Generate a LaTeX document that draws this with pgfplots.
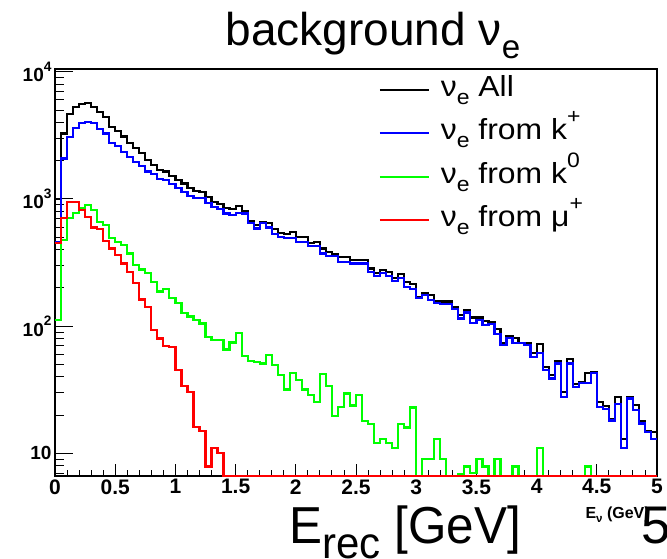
\documentclass[border=0pt]{standalone}
\usepackage{fontspec}
\setmainfont{Liberation Sans}
\usepackage{graphicx}
\usepackage{pgfplots}
\usepackage{pgfplotstable}
\pgfplotsset{compat=1.18}

% ROOT-like sub- and superscripts
\newcommand{\sub}[1]{\raisebox{-0.28em}{\scalebox{0.72}{#1}}}
\newcommand{\super}[1]{\raisebox{0.55em}{\scalebox{0.72}{#1}}}
% slightly wide legend lettering
\newcommand{\lgd}[1]{\scalebox{1.1}[1]{#1}}

\definecolor{rootblue}{RGB}{0,0,255}
\definecolor{rootgreen}{RGB}{0,255,0}
\definecolor{rootred}{RGB}{255,0,0}

% Background nu_e spectra per 0.05 GeV bin (lower bin edge in GeV);
% the last row repeats the last bin to close the step line at 5 GeV.
\pgfplotstableread{
x     all    kp     k0     mu
0.00  1000   460    112    448
0.05  3270   2080   475    703
0.10  4650   3080   703    950
0.15  5310   3590   780    950
0.20  5570   3930   843    818
0.25  5640   4000   895    724
0.30  5310   3930   818    597
0.35  4850   3520   662    577
0.40  4430   3270   624    469
0.45  3700   2740   490    408
0.50  3440   2610   461    362
0.55  3090   2350   434    311
0.60  2770   2150   373    268
0.65  2500   1960   302    217
0.70  2280   1810   279    162
0.75  2020   1640   260    142
0.80  1850   1570   223    93
0.85  1690   1430   187    80
0.90  1640   1410   195    70
0.95  1520   1310   166    69
1.00  1410   1220   151    45
1.05  1320   1140   126    34
1.10  1210   1055   119    30.5
1.15  1160   1010   112    16.2
1.20  1140   1010   105    15.1
1.25  1030   933    82.6   7.9
1.30  950    869    77.8   11.1
1.35  912    828    77.8   10.1
1.40  843    769    65.6   0
1.45  828    746    74.5   0
1.50  879    780    88.7   0
1.55  807    769    58.5   0
1.60  675    643    53.5   0
1.65  624    586    52.5   0
1.70  662    643    50.9   0
1.75  643    597    58.9   0
1.80  577    530    49.4   0
1.85  542    505    41.2   0
1.90  530    490    31.8   0
1.95  552    490    42.8   0
2.00  505    461    37.7   0
2.05  499    461    31.8   0
2.10  453    427    28.7   0
2.15  461    427    25.5   0
2.20  408    373    42.0   0
2.25  385    356    33.8   0
2.30  369    356    19.8   0
2.35  352    321    23.0   0
2.40  352    321    29.6   0
2.45  331    311    23.8   0
2.50  331    311    28.9   0
2.55  331    311    18.0   0
2.60  284    268    17.0   0
2.65  263    248    12.0   0
2.70  276    263    12.9   0
2.75  268    248    12.0   0
2.80  240    226    11.1   0
2.85  256    240    17.0   0
2.90  222    204    16.0   0
2.95  214    195    22.9   0
3.00  168    167    0      0
3.05  183    176    9.0    0
3.10  176    160    9.0    0
3.15  157    153    12.9   0
3.20  156    149    9.0    0
3.25  156    149    0      0
3.30  141    136    0      0
3.35  122    115    6.9    0
3.40  134    128    7.9    0
3.45  117    106    7.0    0
3.50  117    112    9.0    0
3.55  110    102    7.9    0
3.60  108    104    0      0
3.65  94.8   86.7   9.0    0
3.70  73.3   71.0   0      0
3.75  83.6   80.2   0      0
3.80  80.2   74.1   7.9    0
3.85  74.1   73.3   0      0
3.90  74.1   71.0   0      0
3.95  61.1   57.5   0      0
4.00  71.9   61.1   11.1   0
4.05  48.0   45.2   0      0
4.10  41.3   38.8   0      0
4.15  53.2   50.9   0      0
4.20  30.5   27.9   0      0
4.25  55.1   50.9   0      0
4.30  35.1   33.4   0      0
4.35  36.6   35.9   0      0
4.40  43.1   35.9   7.9    0
4.45  43.9   43.1   0      0
4.50  25.5   23.0   0      0
4.55  23.6   22.2   0      0
4.60  18.7   18.1   0      0
4.65  27.9   24.4   0      0
4.70  12.9   11.1   0      0
4.75  27.9   27.0   0      0
4.80  24.0   21.9   0      0
4.85  17.9   17.2   0      0
4.90  15.0   14.8   0      0
4.95  14.8   12.9   0      0
5.00  14.8   12.9   0      0
}\bgtable

\begin{document}
\begin{tikzpicture}
\useasboundingbox (0,0) rectangle (667pt,558pt);

% x axis ticks and labels
\begin{axis}[
  at={(55pt,82pt)}, anchor=south west, scale only axis,
  width=602pt, height=407pt,
  xmin=0, xmax=5, ymode=log, ymin=6.64, ymax=10500,
  tick align=inside,
  axis line style={draw=none},
  ytick=\empty,
  xtick={0,0.5,1,1.5,2,2.5,3,3.5,4,4.5,5},
  xticklabels={0,0.5,1,1.5,2,2.5,3,3.5,4,4.5,5},
  minor x tick num=4,
  xtick pos=bottom,
  major tick length=12pt, minor tick length=6pt,
  tick style={black, line width=0.9pt},
  xticklabel style={font=\fontsize{21}{21}\bfseries\selectfont, yshift=0pt},
]
\end{axis}

% frame, y axis and the four spectra
\begin{axis}[
  at={(55pt,82pt)}, anchor=south west, scale only axis,
  width=602pt, height=407pt,
  xmin=0, xmax=5, ymode=log, ymin=6.64, ymax=10500,
  tick align=inside,
  clip=false,
  axis line style={black, line width=1.2pt},
  xtick=\empty,
  ytick={10,100,1000,10000},
  yticklabels={10,10\super{2},10\super{3},10\super{4}},
  minor ytick={7,8,9,20,30,40,50,60,70,80,90,200,300,400,500,600,700,800,900,2000,3000,4000,5000,6000,7000,8000,9000},
  ytick pos=left,
  major tick length=18pt, minor tick length=9pt,
  tick style={black, line width=0.9pt},
  yticklabel style={font=\fontsize{19}{19}\bfseries\selectfont},
  every axis plot/.append style={line width=2.2pt, const plot mark left},
  legend image code/.code={\draw[#1, line width=1.8pt] (0pt,0pt) -- (49pt,0pt);},
  legend style={draw=none, fill=none, inner sep=0pt,
    at={(axis description cs:0.538,0.985)}, anchor=north west,
    font=\fontsize{29}{29}\selectfont, row sep=14.5pt,
    nodes={inner sep=1pt, text height=20pt, text depth=7pt},
    /tikz/every odd column/.append style={column sep=10pt}},
  legend cell align=left,
]
\addplot[black]     table[x=x, y expr={max(\thisrow{all},6.64)}] {\bgtable};
\addlegendentry{\lgd{ν\sub{e} All}}
\addplot[rootblue]  table[x=x, y expr={max(\thisrow{kp},6.64)}] {\bgtable};
\addlegendentry{\lgd{ν\sub{e} from k\super{+}}}
\addplot[rootgreen] table[x=x, y expr={max(\thisrow{k0},6.64)}] {\bgtable};
\addlegendentry{\lgd{ν\sub{e} from k\super{0}}}
\addplot[rootred]   table[x=x, y expr={max(\thisrow{mu},6.64)}] {\bgtable};
\addlegendentry{\lgd{ν\sub{e} from μ\super{+}}}
\end{axis}

% titles
\node[anchor=base, font=\fontsize{46}{46}\selectfont] at (373pt,512pt) {background ν\sub{e}};
\node[anchor=base west, font=\fontsize{16}{16}\bfseries\selectfont] at (582pt,40pt) {E\sub{ν} (GeV)};
\node[anchor=base west, font=\fontsize{52}{52}\selectfont] at (286pt,15pt)
  {\scalebox{0.95}[1]{E\raisebox{-0.29em}{\scalebox{0.85}{rec}} [GeV]}};
\node[anchor=base west, font=\fontsize{53}{53}\selectfont] at (638pt,15pt) {5};
\end{tikzpicture}
\end{document}
